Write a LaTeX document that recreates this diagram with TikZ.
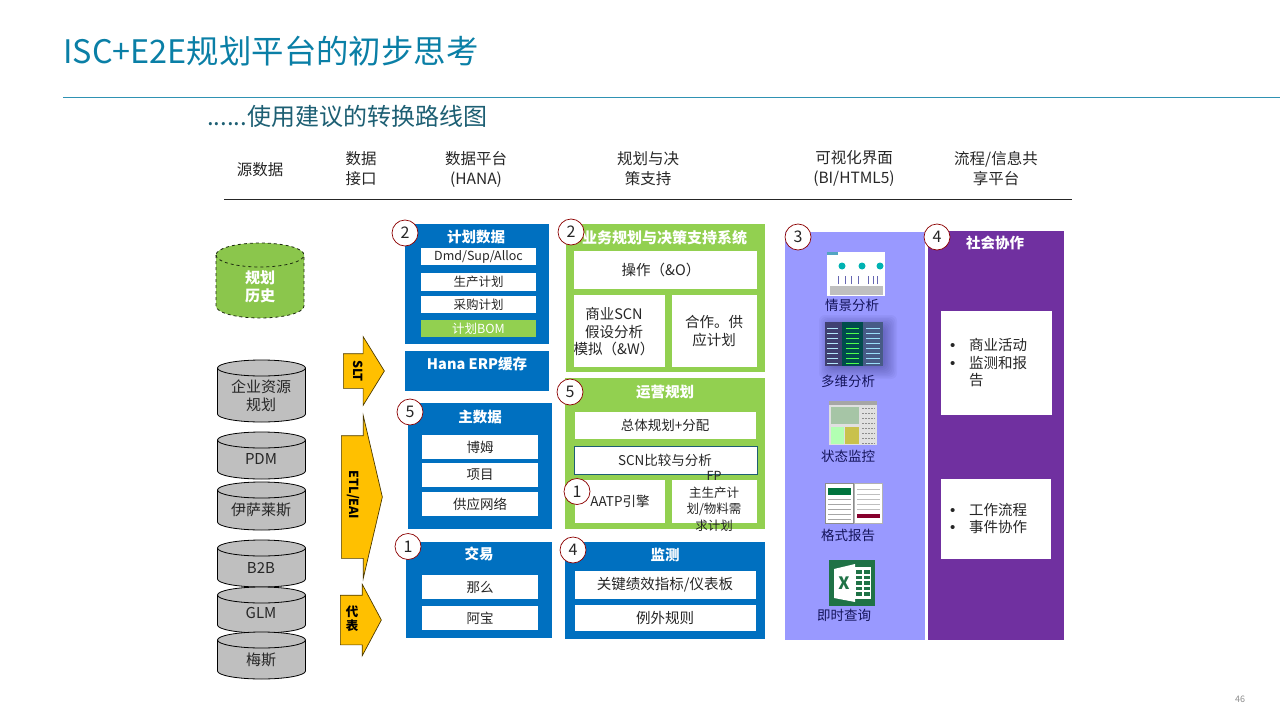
\documentclass[tikz,border=0pt]{standalone}
\usepackage{fontspec}
\setmainfont{Noto Sans CJK SC}
\newfontfamily\bulletfont{Liberation Sans}
\usetikzlibrary{shapes.arrows}
\definecolor{titleteal}{HTML}{0A7FA6}
\definecolor{subteal}{HTML}{1D5F73}
\definecolor{panelblue}{HTML}{0070C0}
\definecolor{panelgreen}{HTML}{92D050}
\definecolor{panelviolet}{HTML}{9999FF}
\definecolor{panelpurple}{HTML}{7030A0}
\definecolor{arrowgold}{HTML}{FFC000}
\definecolor{dbgray}{HTML}{BFBFBF}
\definecolor{inknavy}{HTML}{14145A}
\definecolor{xlgreen}{HTML}{1F7246}
\newcommand{\fsz}[1]{\fontsize{#1}{17}\selectfont}
\newcommand{\bul}{\makebox[19pt][l]{\bulletfont\fontsize{15}{17}\selectfont •}}
% drum: [y radius]{style}{name}{x}{top}{bottom}
\newcommand{\dbdrum}[6][8]{
  \filldraw[dbase,#2] (#4-44,#5+#1) -- (#4-44,#6-#1) arc[start angle=180,end angle=360,x radius=44pt,y radius=#1 pt]
    -- (#4+44,#5+#1) arc[start angle=0,end angle=180,x radius=44pt,y radius=#1 pt] -- cycle;
  \draw[dbase,#2,fill=none] (#4-44,#5+#1) arc[start angle=180,end angle=360,x radius=44pt,y radius=#1 pt];
  \coordinate (#3) at (#4,#5/2+#6/2);
}
\tikzset{
  headtext/.style={align=center,text=black!85,font=\fontsize{15.5}{20}\selectfont},
  titletext/.style={text=white,font=\fontsize{14.5}{17}\selectfont\bfseries,align=center},
  boxtext/.style={text=black!85,font=\fontsize{14.5}{17.5}\selectfont,align=center},
  smalltext/.style={text=black!85,font=\fontsize{12.5}{15.5}\selectfont,align=center},
  viewtext/.style={text=inknavy,font=\fontsize{13.5}{16}\selectfont},
  badge/.style={circle,fill=white,draw=red!55!black,line width=.7pt,minimum size=26pt,inner sep=0pt,
    text=black!85,font=\fontsize{16}{18}\selectfont},
  dbase/.style={draw=black,fill=dbgray,line width=.8pt},
  dbtext/.style={align=center,inner sep=0pt,text=black!85,font=\fontsize{15}{18}\selectfont},
  bigarrow/.style={single arrow,draw=black!70!arrowgold,fill=arrowgold,line width=.7pt,anchor=tail,inner xsep=0pt},
  arrowtext/.style={text=black,font=\fontsize{12.5}{14}\selectfont\bfseries,align=center}
}
\begin{document}
\begin{tikzpicture}[x=1pt,y=-1pt]
  \useasboundingbox (0,0) rectangle (1280,720);

  % Title and rule
  \node[anchor=west,inner sep=0pt,text=titleteal,font=\fontsize{32.4}{36}\selectfont] (maintitle) at (63,51) {ISC+E2E规划平台的初步思考};
  \coordinate (ruleleft) at (63,97);
  \coordinate (ruleright) at (1280,97);
  \draw[titleteal!85!white,line width=.9pt] (ruleleft) -- (ruleright);
  \node[anchor=west,inner sep=0pt,text=subteal,font=\fontsize{24}{28}\selectfont] (subtitle) at (207,116) {......使用建议的转换路线图};

  % Column heads
  \node[headtext] (headsource) at (260,170) {源数据};
  \node[headtext] (headport) at (361,169) {数据\\接口};
  \node[headtext] (headhana) at (476,169) {数据平台\\(HANA)};
  \node[headtext] (headplan) at (648,169) {规划与决\\策支持};
  \node[headtext] (headview) at (854,169) {可视化界面\\(BI/HTML5)};
  \node[headtext] (headflow) at (996,169) {流程/信息共\\享平台};
  \coordinate (headleft) at (224,199);
  \coordinate (headright) at (1072,199);
  \draw[black!85,line width=.8pt] (headleft) -- (headright);

  % Source databases
  \dbdrum[12]{draw=black!80!panelgreen,fill=panelgreen!95!black,dashed}{dbhistory}{260}{243}{318}
  \node[dbtext,text=white] (texthistory) at (260,287) {\bfseries 规划\\\bfseries 历史};
  \dbdrum{}{dberp}{261.5}{360}{422}
  \node[dbtext] (texterp) at (261,396) {企业资源\\规划};
  \dbdrum{}{dbpdm}{261.5}{432}{479}
  \node[dbtext] (textpdm) at (261,458.5) {PDM};
  \dbdrum{}{dbisr}{261.5}{482}{530}
  \node[dbtext] (textisr) at (261,510) {伊萨莱斯};
  \dbdrum{}{dbbtb}{261.5}{540}{587}
  \node[dbtext] (textbtb) at (261,567.5) {B2B};
  \dbdrum{}{dbglm}{261.5}{587}{633}
  \node[dbtext] (textglm) at (261,613) {GLM};
  \dbdrum{}{dbmes}{261.5}{632}{679}
  \node[dbtext] (textmes) at (261,660) {梅斯};

  % Interface arrows
  \node[bigarrow,minimum height=41pt,inner ysep=17pt,single arrow head extend=17pt,single arrow tip angle=116.6] (arrowslt) at (343,371) {};
  \node[bigarrow,minimum height=41pt,inner ysep=61pt,single arrow head extend=20pt,single arrow tip angle=153.6] (arrowetl) at (341,497) {};
  \node[bigarrow,minimum height=41pt,inner ysep=24.5pt,single arrow head extend=11pt,single arrow tip angle=123.7] (arrowrep) at (340,620) {};
  \node[arrowtext,rotate=-90] (labelslt) at (358,371) {SLT};
  \node[arrowtext,rotate=-90] (labeletl) at (353,495) {ETL/EAI};
  \node[arrowtext] (labelrep) at (352,619) {代\\表};

  % Data platform column
  \fill[panelblue] (405,224) rectangle (549,344);
  \node[titletext] (plandata) at (476,237) {计划数据};
  \fill[white] (421,248) rectangle (536,265);
  \node[smalltext] (dmd) at (478.5,256.5) {Dmd/Sup/Alloc};
  \fill[white] (421,273) rectangle (536,291);
  \node[smalltext] (prodplan) at (478.5,282) {生产计划};
  \fill[white] (421,296) rectangle (536,313);
  \node[smalltext] (buyplan) at (478.5,304.5) {采购计划};
  \fill[panelgreen] (421,320) rectangle (536,337);
  \node[smalltext,text=white] (planbom) at (478.5,328.5) {计划BOM};

  \fill[panelblue] (405,351) rectangle (549,391);
  \node[titletext] (hanaerp) at (477,364) {Hana ERP缓存};

  \fill[panelblue] (408,403) rectangle (552,529);
  \node[titletext] (masterdata) at (480,417) {主数据};
  \fill[white] (422,435) rectangle (538,459);
  \node[boxtext,font=\fsz{13.5}] (bom) at (480,447) {博姆};
  \fill[white] (422,463) rectangle (538,487);
  \node[boxtext,font=\fsz{13.5}] (item) at (480,475) {项目};
  \fill[white] (422,492) rectangle (538,516);
  \node[boxtext,font=\fsz{13.5}] (network) at (480,504) {供应网络};

  \fill[panelblue] (406,542) rectangle (552,638);
  \node[titletext] (trade) at (479,554) {交易};
  \fill[white] (422,575) rectangle (538,599);
  \node[boxtext,font=\fsz{13.5}] (then) at (480,587) {那么};
  \fill[white] (422,606) rectangle (538,630);
  \node[boxtext,font=\fsz{13.5}] (abao) at (480,618) {阿宝};

  % Planning column
  \fill[panelgreen] (566,224) rectangle (765,372);
  \node[titletext,font=\fontsize{15}{17}\selectfont\bfseries] (bizplan) at (664.5,238) {业务规划与决策支持系统};
  \fill[white] (574,251) rectangle (757,289);
  \node[boxtext] (sop) at (661,270) {操作（\&O）};
  \fill[white] (574,295) rectangle (665,367);
  \node[boxtext] (whatif) at (614,332) {商业SCN\\假设分析\\模拟（\&W）};
  \fill[white] (672,295) rectangle (757,367);
  \node[boxtext] (supply) at (714,331) {合作。供\\应计划};

  \fill[panelgreen] (565,378) rectangle (765,529);
  \node[titletext] (opsplan) at (665,392) {运营规划};
  \fill[white] (575,412) rectangle (756,439);
  \node[boxtext,font=\fsz{13.5}] (allocate) at (665,425) {总体规划+分配};
  \filldraw[fill=white,draw=subteal,line width=.7pt] (574,446) rectangle (757,474);
  \node[boxtext,font=\fsz{13.5}] (scncmp) at (665,460) {SCN比较与分析};
  \fill[white] (575,480) rectangle (665,523);
  \node[boxtext,font=\fsz{13.5}] (aatp) at (620,501) {AATP引擎};
  \fill[white] (672,480) rectangle (757,523);
  \node[smalltext,font=\fontsize{12.5}{16.5}\selectfont] (mps) at (714,501.5) {FP\\主生产计\\划/物料需\\求计划};

  \fill[panelblue] (565,542) rectangle (765,639);
  \node[titletext] (monitor) at (665,555) {监测};
  \fill[white] (575,571) rectangle (756,599);
  \node[boxtext] (kpi) at (665,585) {关键绩效指标/仪表板};
  \fill[white] (575,605) rectangle (756,631);
  \node[boxtext] (rules) at (665,618) {例外规则};

  % Visual interface column
  \fill[panelviolet] (785,232) rectangle (925,640);

  % scenario thumbnail
  \fill[white] (827,252) rectangle (885,296);
  \foreach \cx in {842,862,880}
    \fill[teal!60!cyan] (\cx,266) circle (3.5pt);
  \foreach \bx in {838,845,851,858,868,873,877}
    \draw[blue!50!black!60,line width=.7pt] (\bx,284) -- (\bx,276);
  \fill[black!25] (830,286) rectangle (883,295);
  \fill[titleteal!70] (827,252) rectangle (838,255);
  \node[viewtext] (scenario) at (852,305) {情景分析};

  % cube thumbnail with its shadow
  \foreach \grow in {13,11.5,...,1}
    \fill[inknavy,opacity=.045,rounded corners=6pt] (832-\grow,328-\grow) rectangle (884+\grow,366+\grow);
  \fill[blue!25!black!75] (825,322) rectangle (842,366);
  \fill[teal!60!black] (842,322) rectangle (863,366);
  \fill[cyan!40!blue!60!black] (863,322) rectangle (883,366);
  \foreach \ly in {328,333,...,363} {
    \draw[white!70!cyan,line width=.6pt] (827,\ly) -- (838,\ly);
    \draw[green!70!white,line width=.8pt] (846,\ly) -- (859,\ly);
    \draw[white!60!cyan,line width=.6pt] (866,\ly) -- (880,\ly);
  }
  \node[viewtext] (cube) at (848,381) {多维分析};

  % status thumbnail
  \fill[black!12] (829,401) rectangle (877,445);
  \fill[black!35] (829,401) rectangle (877,405);
  \fill[green!35!black!35] (831,407) rectangle (859,424);
  \fill[orange!70!green!70] (845,427) rectangle (859,444);
  \fill[green!30!white] (831,427) rectangle (844,444);
  \foreach \ly in {408,413,...,443}
    \draw[black!45,line width=.8pt,dash pattern=on 2pt off 1pt] (862,\ly) -- (875,\ly);
  \node[viewtext] (status) at (848,456) {状态监控};

  % report thumbnail
  \filldraw[fill=white,draw=black!45,line width=.5pt] (825,483) rectangle (853,523);
  \filldraw[fill=white,draw=black!30,line width=.5pt] (854,483) rectangle (882,523);
  \fill[teal!70!green!70!black] (828,488) rectangle (851,495);
  \fill[purple!70!black] (857,514) rectangle (880,518);
  \foreach \ly in {499,504,...,519} {
    \draw[black!35,line width=.5pt] (828,\ly) -- (851,\ly);
    \draw[black!25,line width=.5pt] (857,\ly-10) -- (880,\ly-10);
  }
  \node[viewtext] (report) at (848,535) {格式报告};

  % excel icon
  \fill[xlgreen] (829,560) rectangle (875,606);
  \fill[white] (855,567) rectangle (871,599);
  \foreach \gx in {856,864}
    \foreach \gy in {570,575.5,...,593}
      \fill[xlgreen] (\gx,\gy) rectangle (\gx+6,\gy+3.5);
  \fill[white] (834,569) -- (855,564) -- (855,602) -- (834,598) -- cycle;
  \node[text=xlgreen,font=\fontsize{17}{18}\selectfont\bfseries] (excelx) at (844,583) {X};
  \node[viewtext] (adhoc) at (844,615) {即时查询};

  % Social column
  \fill[panelpurple] (928,231) rectangle (1064,640);
  \node[titletext] (social) at (995,243) {社会协作};
  \fill[white] (941,311) rectangle (1052,415);
  \node[boxtext,align=left,anchor=west,inner sep=0pt] (bizlist) at (950,363) {\bul 商业活动\\\bul 监测和报\\\makebox[19pt][l]{}告};
  \fill[white] (941,479) rectangle (1051,559);
  \node[boxtext,align=left,anchor=west,inner sep=0pt] (flowlist) at (950,518.5) {\bul 工作流程\\\bul 事件协作};

  % Numbered badges
  \node[badge] (onea) at (577,491.5) {1};
  \node[badge] (oneb) at (408,546.5) {1};
  \node[badge] (twoa) at (405,233) {2};
  \node[badge] (twob) at (571,232) {2};
  \node[badge] (three) at (798,237) {3};
  \node[badge] (foura) at (573,550) {4};
  \node[badge] (fourb) at (937,237) {4};
  \node[badge] (fivea) at (410,412) {5};
  \node[badge] (fiveb) at (570,392) {5};

  % Page number
  \node[text=black!45,font=\fontsize{9}{10}\selectfont] (pagenum) at (1240,699) {46};
\end{tikzpicture}
\end{document}
